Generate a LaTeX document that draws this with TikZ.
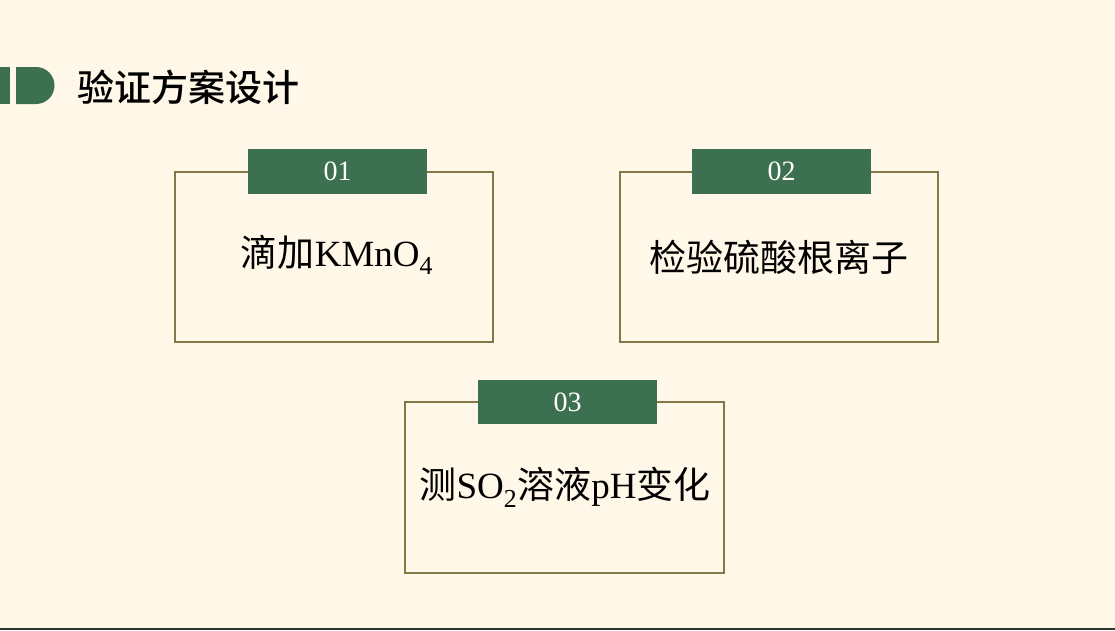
\documentclass[tikz,border=0pt]{standalone}
\usepackage{fontspec}
\setmainfont{Liberation Serif}
\newfontfamily\cjk{Noto Sans CJK SC}
\newfontfamily\cjkm{Noto Sans CJK SC Medium}
\definecolor{bg}{HTML}{FFF8E8}
\definecolor{grn}{HTML}{3D7050}
\definecolor{olv}{HTML}{857848}
\begin{document}
\begin{tikzpicture}[x=1pt,y=-1pt,
  box/.style={draw=olv,line width=1.5pt,fill=none},
  tab/.style={fill=grn,text=white,font=\fontsize{28}{28}\selectfont,inner sep=0},
  lbl/.style={font=\fontsize{37}{37}\selectfont\cjk,text=black}]
\fill[bg] (0,0) rectangle (1115,630);
\useasboundingbox (0,0) rectangle (1115,630);
\fill[black!80] (0,628) rectangle (1115,630);
\fill[grn] (0,67) rectangle (10,104);
\fill[grn] (16,67) -- (36,67) arc[start angle=-90,end angle=90,radius=18.5] -- (16,104) -- cycle;
\node[anchor=west,font=\fontsize{37}{37}\selectfont\cjkm] (title) at (74,87) {验证方案设计};
% box 1
\draw[box] (175,172) rectangle (493,342);
\node[tab,minimum width=179,minimum height=45] (t1) at (337.5,171.5) {01};
\node[lbl] (l1) at (337,255) {滴加{\rmfamily KMnO\textsubscript{4}}};
% box 2
\draw[box] (620,172) rectangle (938,342);
\node[tab,minimum width=179,minimum height=45] (t2) at (781.5,171.5) {02};
\node[lbl] (l2) at (779,257) {检验硫酸根离子};
% box 3
\draw[box] (405,402) rectangle (724,573);
\node[tab,minimum width=179,minimum height=44] (t3) at (567.5,402) {03};
\node[lbl] (l3) at (565,487) {测{\rmfamily SO\textsubscript{2}}溶液{\rmfamily pH}变化};
\end{tikzpicture}
\end{document}
